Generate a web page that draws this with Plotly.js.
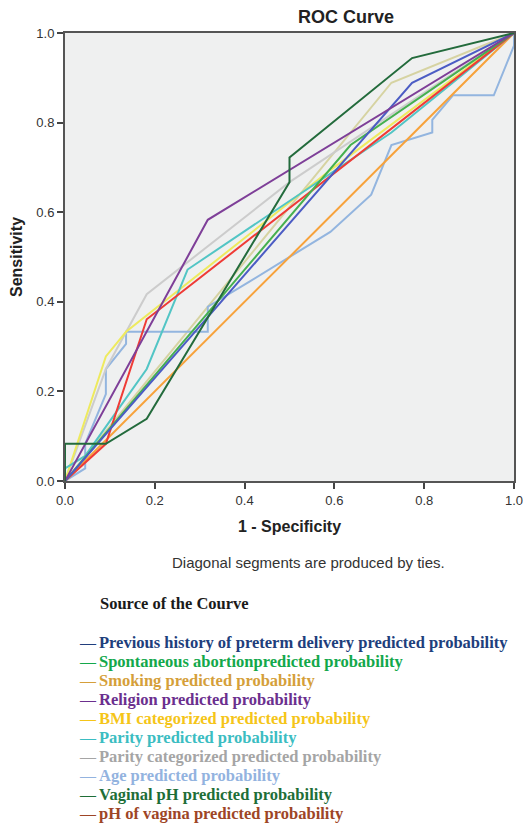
<!DOCTYPE html>
<html>
<head>
<meta charset="utf-8">
<script src="https://cdn.plot.ly/plotly-3.0.1.min.js"></script>
<style>html,body{margin:0;padding:0;background:#fff;}#chart{width:523px;height:823px;}</style>
</head>
<body>
<div id="chart"></div>
<script>
// ---- Data ----
const seriesNames = [
  "Previous history of preterm delivery predicted probability",
  "Spontaneous abortionpredicted probability",
  "Smoking predicted probability",
  "Religion predicted probability",
  "BMI categorized predicted probability",
  "Parity predicted probability",
  "Parity categorized predicted probability",
  "Age predicted probability",
  "Vaginal pH predicted probability",
  "pH of vagina predicted probability"
];
const legendColors = ["#203e7c","#13a84b","#d59f3a","#6b2f8e","#f5c518","#3bbdc2","#a5a5a5","#93b3df","#1e6e37","#9e4526"];
const lineColors   = ["#4b5cc4","#45b04f","#f7a23b","#7e3f98","#eeea5e","#52c5c5","#cccccc","#93b5df","#236b3c","#ef3b36"];

const prevX = [0, 0.773, 1];
const prevY = [0, 0.889, 1];
const sponX = [0, 0.636, 1];
const sponY = [0, 0.750, 1];
const smokX = [0, 1];
const smokY = [0, 1];
const relX  = [0, 0.318, 1];
const relY  = [0, 0.583, 1];
const bmiX  = [0, 0.091, 0.136, 0.591, 1];
const bmiY  = [0, 0.278, 0.333, 0.694, 1];
const parX  = [0, 0, 0.045, 0.182, 0.273, 0.727, 1];
const parY  = [0, 0.028, 0.056, 0.250, 0.472, 0.778, 1];
const parcX = [0, 0.091, 0.182, 0.500, 1];
const parcY = [0, 0.250, 0.417, 0.667, 1];
const ageX  = [0, 0.045, 0.045, 0.091, 0.091, 0.136, 0.136, 0.318, 0.318, 0.409, 0.591, 0.682, 0.727, 0.818, 0.818, 0.864, 0.955, 1, 1];
const ageY  = [0, 0.028, 0.083, 0.194, 0.250, 0.306, 0.333, 0.333, 0.389, 0.444, 0.556, 0.639, 0.750, 0.778, 0.806, 0.861, 0.861, 0.972, 1];
const vphX  = [0, 0, 0.091, 0.182, 0.500, 0.500, 0.773, 1];
const vphY  = [0, 0.083, 0.083, 0.139, 0.667, 0.722, 0.944, 1];
const phvX  = [0, 0.091, 0.182, 1];
const phvY  = [0, 0.083, 0.361, 1];
// extra curve visible in the plot but not listed in the legend
const extraX = [0, 0.727, 1];
const extraY = [0, 0.889, 1];
const extraColor = "#d6d3a2";

const xTicks = [0, 0.2, 0.4, 0.6, 0.8, 1.0];
const yTicks = [0, 0.2, 0.4, 0.6, 0.8, 1.0];
const tickText = ["0.0","0.2","0.4","0.6","0.8","1.0"];

const legendTitle = "Source of the Courve";
const footnote = "Diagonal segments are produced by ties.";

// ---- Build ----
const xs = [prevX, sponX, smokX, relX, bmiX, parX, parcX, ageX, vphX, phvX];
const ys = [prevY, sponY, smokY, relY, bmiY, parY, parcY, ageY, vphY, phvY];

const traces = [];
traces.push({x: extraX, y: extraY, type: "scatter", mode: "lines", line: {color: extraColor, width: 2}, showlegend: false, hoverinfo: "skip"});
const drawOrder = [7, 2, 6, 4, 5, 9, 1, 0, 3, 8];
drawOrder.forEach(i => {
  traces.push({x: xs[i], y: ys[i], type: "scatter", mode: "lines", name: seriesNames[i],
    line: {color: lineColors[i], width: 2}, showlegend: false});
});

const L = 65, T = 33, W = 449, H = 448;
const px = v => (v - L) / W;
const py = v => (481 - v) / H;

const annotations = [];
annotations.push({xref: "paper", yref: "paper", x: px(308), y: py(562), text: footnote, showarrow: false,
  xanchor: "center", yanchor: "middle", font: {family: "Liberation Sans, Arial", size: 15, color: "#333333"}});
annotations.push({xref: "paper", yref: "paper", x: px(98), y: py(603), text: "<b>" + legendTitle + "</b>", showarrow: false,
  xanchor: "left", yanchor: "middle", font: {family: "Liberation Serif, Times New Roman", size: 16.5, color: "#1a1a1a"}});
seriesNames.forEach((n, i) => {
  const rowY = 642 + i * 19.1;
  annotations.push({xref: "paper", yref: "paper", x: px(77), y: py(rowY), text: "—", showarrow: false,
    xanchor: "left", yanchor: "middle", font: {family: "Liberation Serif, Times New Roman", size: 16, color: legendColors[i]}});
  annotations.push({xref: "paper", yref: "paper", x: px(97), y: py(rowY), text: "<b>" + n + "</b>", showarrow: false,
    xanchor: "left", yanchor: "middle", font: {family: "Liberation Serif, Times New Roman", size: 16.5, color: legendColors[i]}});
});

const axisCommon = {
  range: [0, 1], tickmode: "array", ticks: "outside", ticklen: 6, tickwidth: 2, tickcolor: "#444",
  showgrid: false, zeroline: false, showline: true, linecolor: "#555", linewidth: 2, mirror: true,
  ticklabeloverflow: "allow",
  tickfont: {family: "Liberation Sans, Arial", size: 13, color: "#333"}, fixedrange: true
};

const layout = {
  width: 523, height: 823,
  margin: {l: L, r: 523 - L - W, t: T, b: 823 - T - H},
  paper_bgcolor: "#ffffff", plot_bgcolor: "#eff0f0",
  showlegend: false,
  title: {text: "<b>ROC Curve</b>", xref: "paper", x: px(346), xanchor: "center", yref: "container", y: 1 - 17 / 823, yanchor: "middle",
    font: {family: "Liberation Sans, Arial", size: 18, color: "#222"}},
  xaxis: Object.assign({}, axisCommon, {tickvals: xTicks, ticktext: tickText,
    title: {text: "<b>1 - Specificity</b>", standoff: 14, font: {family: "Liberation Sans, Arial", size: 16, color: "#222"}}}),
  yaxis: Object.assign({}, axisCommon, {tickvals: yTicks, ticktext: tickText,
    title: {text: "<b>Sensitivity</b>", standoff: 10, font: {family: "Liberation Sans, Arial", size: 16, color: "#222"}}}),
  annotations: annotations
};

Plotly.newPlot("chart", traces, layout, {displayModeBar: false, staticPlot: true});
</script>
</body>
</html>
